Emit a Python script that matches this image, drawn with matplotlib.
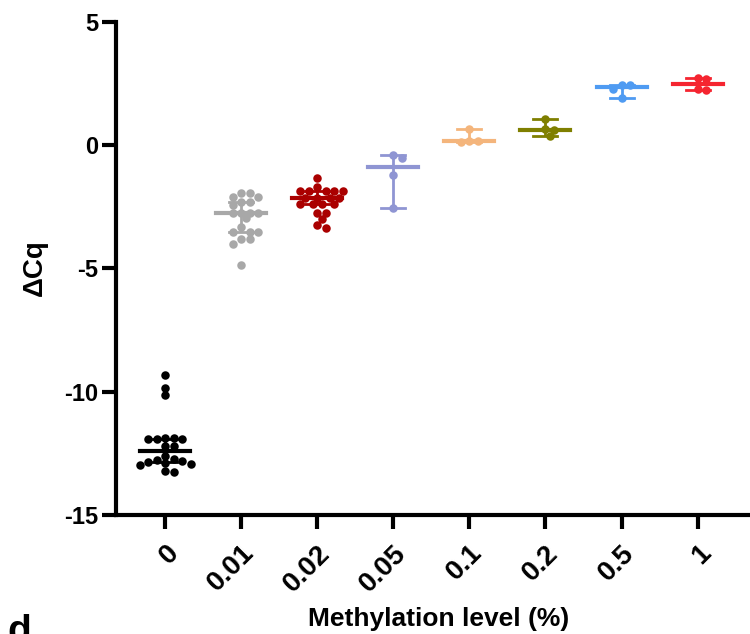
import numpy as np
import matplotlib
matplotlib.use('Agg')
import matplotlib.pyplot as plt
from math import comb

# ---------------- data ----------------
categories = ['0', '0.01', '0.02', '0.05', '0.1', '0.2', '0.5', '1']
colors = ['#000000', '#A8A8A8', '#AA0000', '#8F95D3', '#F4B57C', '#7F7F00', '#4F9BF2', '#F52530']

vals_0 = [-9.34, -9.84, -10.12, -11.88, -11.88, -11.9, -11.9, -11.92, -12.2, -12.2,
          -12.62, -12.72, -12.76, -12.8, -12.85, -12.9, -12.93, -12.97, -13.22, -13.25]
vals_001 = [-1.94, -1.94, -2.08, -2.08, -2.29, -2.29, -2.43, -2.73, -2.73, -2.73,
            -2.73, -2.97, -3.33, -3.51, -3.51, -3.51, -3.81, -3.81, -4.01, -4.86]
vals_002 = [-1.34, -1.71, -1.85, -1.85, -1.85, -1.85, -1.85, -2.12, -2.12, -2.12,
            -2.12, -2.39, -2.39, -2.39, -2.39, -2.73, -2.73, -3.0, -3.23, -3.36]
vals_005 = [-0.40, -0.53, -1.20, -2.54]
vals_01 = [0.65, 0.19, 0.17, 0.15]
vals_02 = [1.05, 0.64, 0.60, 0.38]
vals_05 = [2.45, 2.43, 2.30, 1.93]
vals_1 = [2.72, 2.70, 2.30, 2.25]

groups = [vals_0, vals_001, vals_002, vals_005, vals_01, vals_02, vals_05, vals_1]

y_ticks = [-15, -10, -5, 0, 5]

# ---------------- helpers ----------------
def median_ci(v):
    """Median with (approximately) 95% CI of the median via binomial ranks."""
    s = np.sort(np.asarray(v))[::-1]
    n = len(s)
    k = 1
    for j in range(1, n // 2 + 1):
        p_below = sum(comb(n, i) for i in range(0, j)) / 2 ** n
        if 1 - 2 * p_below >= 0.95:
            k = j
    lo_rank, hi_rank = k, n + 1 - k
    return np.median(s), s[lo_rank - 1], s[hi_rank - 1]


def swarm_offsets(v, d_px, xscale, yscale, tol=0.8):
    """Simple beeswarm: returns x offsets (data units)."""
    v = np.asarray(v)
    order = np.argsort(-v)
    placed = []
    offs = np.zeros(len(v))
    for idx in order:
        y = v[idx] * yscale
        cands = [0.0]
        for m in range(1, 20):
            cands += [m * d_px * 0.5, -m * d_px * 0.5]
        for c in cands:
            ok = True
            for (px, py) in placed:
                if (px - c) ** 2 + (py - y) ** 2 < (d_px * tol) ** 2:
                    ok = False
                    break
            if ok:
                placed.append((c, y))
                offs[idx] = c / xscale
                break
    return offs


# ---------------- figure ----------------
plt.rcParams['font.family'] = ['Liberation Sans', 'DejaVu Sans']
plt.rcParams['font.weight'] = 'bold'

fig = plt.figure(figsize=(7.5, 6.34), dpi=100)
ax = fig.add_axes([0.155, 0.1877, 0.845, 0.7776])

ax.set_xlim(-0.645, 7.69)
ax.set_ylim(-15, 5)

# pixel scales
fig.canvas.draw()
x0, y0 = ax.transData.transform((0, 0))
x1, y1 = ax.transData.transform((1, 1))
xscale = x1 - x0
yscale = y1 - y0

d_px = 8.5
ms = d_px * 72 / fig.dpi

half_med = 25 / xscale
half_cap = 12 / xscale

for i, (vals, col) in enumerate(zip(groups, colors)):
    offs = swarm_offsets(vals, d_px, xscale, yscale)
    ax.plot(i + offs, vals, 'o', color=col, markersize=ms, markeredgewidth=0,
            zorder=3, clip_on=False)
    med, hi, lo = median_ci(vals)
    ax.plot([i, i], [lo, hi], color=col, lw=2.0, zorder=4, solid_capstyle='butt')
    ax.plot([i - half_cap, i + half_cap], [hi, hi], color=col, lw=2.0, zorder=4)
    ax.plot([i - half_cap, i + half_cap], [lo, lo], color=col, lw=2.0, zorder=4)
    ax.plot([i - half_med, i + half_med], [med, med], color=col, lw=3.0, zorder=4)

ax.set_xticks(range(len(categories)))
ax.set_xticklabels(categories, rotation=45, ha='right', va='top',
                   rotation_mode='anchor', fontsize=20, fontweight='bold')
ax.set_yticks(y_ticks)
ax.set_yticklabels([str(t) for t in y_ticks], fontsize=17, fontweight='bold')

for s in ['top', 'right']:
    ax.spines[s].set_visible(False)
for s in ['left', 'bottom']:
    ax.spines[s].set_linewidth(3)
ax.tick_params(axis='both', length=10, width=3, pad=3)
ax.tick_params(axis='x', pad=8)

fig.text(439 / 750, 1 - 619 / 634, 'Methylation level (%)', fontsize=19,
         fontweight='bold', ha='center', va='center')
fig.text(35 / 750, 1 - 268 / 634, 'ΔCq', fontsize=20, fontweight='bold',
         rotation=90, ha='center', va='center')

fig.text(0.010, -0.013, 'd', fontsize=28, fontweight='bold', va='baseline', ha='left')

fig.savefig('out.png', dpi=100)
